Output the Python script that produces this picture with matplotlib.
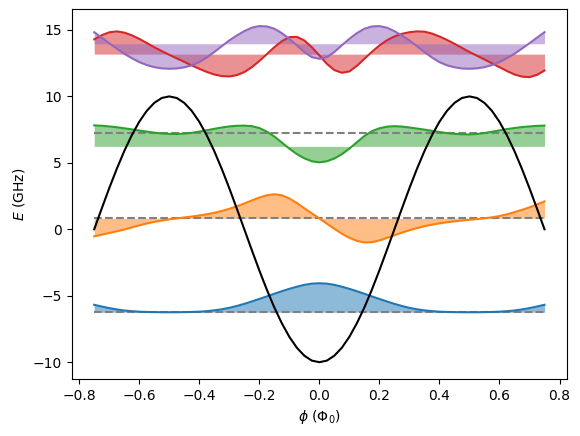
import matplotlib
matplotlib.use("Agg")
import matplotlib.pyplot as plt

# phase grid (units of Phi_0), step 0.025
phi = [-0.75, -0.725, -0.70, -0.675, -0.65, -0.625, -0.60, -0.575, -0.55, -0.525,
       -0.50, -0.475, -0.45, -0.425, -0.40, -0.375, -0.35, -0.325, -0.30, -0.275,
       -0.25, -0.225, -0.20, -0.175, -0.15, -0.125, -0.10, -0.075, -0.05, -0.025,
       0.00, 0.025, 0.05, 0.075, 0.10, 0.125, 0.15, 0.175, 0.20, 0.225,
       0.25, 0.275, 0.30, 0.325, 0.35, 0.375, 0.40, 0.425, 0.45, 0.475,
       0.50, 0.525, 0.55, 0.575, 0.60, 0.625, 0.65, 0.675, 0.70, 0.725, 0.75]

potential = [0.0, 1.56, 3.09, 4.54, 5.88, 7.07, 8.09, 8.91, 9.51, 9.88,
             10.0, 9.88, 9.51, 8.91, 8.09, 7.07, 5.88, 4.54, 3.09, 1.56,
             0.0, -1.56, -3.09, -4.54, -5.88, -7.07, -8.09, -8.91, -9.51, -9.88,
             -10.0, -9.88, -9.51, -8.91, -8.09, -7.07, -5.88, -4.54, -3.09, -1.56,
             0.0, 1.56, 3.09, 4.54, 5.88, 7.07, 8.09, 8.91, 9.51, 9.88,
             10.0, 9.88, 9.51, 8.91, 8.09, 7.07, 5.88, 4.54, 3.09, 1.56, 0.0]

# energy levels (dashed lines) and fill baselines
dashed_levels = [-6.24, 0.83, 7.24]
fill_base = [-6.24, 0.83, 6.24, 13.18, 13.96]

wf0 = [-5.68, -5.81, -5.93, -6.03, -6.11, -6.16, -6.20, -6.22, -6.23, -6.24,
       -6.24, -6.24, -6.23, -6.22, -6.20, -6.16, -6.10, -6.02, -5.91, -5.77,
       -5.61, -5.43, -5.24, -5.05, -4.85, -4.66, -4.48, -4.32, -4.18, -4.09,
       -4.06, -4.09, -4.18, -4.32, -4.48, -4.66, -4.85, -5.05, -5.24, -5.43,
       -5.61, -5.77, -5.91, -6.02, -6.10, -6.16, -6.20, -6.22, -6.23, -6.24,
       -6.24, -6.24, -6.23, -6.22, -6.20, -6.16, -6.11, -6.03, -5.93, -5.81, -5.68]
wf1 = [-0.53, -0.40, -0.28, -0.15, -0.02, 0.14, 0.30, 0.44, 0.56, 0.66,
       0.75, 0.82, 0.89, 0.96, 1.04, 1.13, 1.24, 1.38, 1.54, 1.73,
       1.94, 2.17, 2.39, 2.56, 2.64, 2.56, 2.32, 1.98, 1.58, 1.20,
       0.82, 0.42, 0.04, -0.33, -0.64, -0.87, -0.99, -0.97, -0.84, -0.65,
       -0.45, -0.25, -0.07, 0.09, 0.23, 0.35, 0.45, 0.53, 0.60, 0.66,
       0.72, 0.77, 0.83, 0.90, 1.00, 1.13, 1.29, 1.46, 1.65, 1.87, 2.10]
wf2 = [7.82, 7.79, 7.74, 7.68, 7.60, 7.52, 7.43, 7.35, 7.27, 7.21,
       7.18, 7.17, 7.20, 7.26, 7.35, 7.45, 7.56, 7.66, 7.74, 7.79,
       7.80, 7.76, 7.62, 7.35, 6.98, 6.53, 6.07, 5.66, 5.34, 5.12,
       5.04, 5.12, 5.33, 5.65, 6.07, 6.55, 7.02, 7.38, 7.60, 7.72,
       7.76, 7.73, 7.66, 7.58, 7.50, 7.41, 7.32, 7.24, 7.18, 7.15,
       7.14, 7.17, 7.24, 7.34, 7.44, 7.54, 7.62, 7.69, 7.74, 7.78, 7.80]
wf3 = [14.29, 14.60, 14.82, 14.89, 14.80, 14.60, 14.33, 14.02, 13.70, 13.41,
       13.13, 12.86, 12.60, 12.33, 12.08, 11.84, 11.65, 11.53, 11.50, 11.60,
       11.83, 12.20, 12.66, 13.18, 13.70, 14.15, 14.46, 14.48, 14.21, 13.70,
       13.08, 12.45, 11.98, 11.78, 11.88, 12.30, 12.83, 13.35, 13.83, 14.22,
       14.51, 14.71, 14.83, 14.89, 14.87, 14.73, 14.51, 14.25, 13.96, 13.65,
       13.34, 13.06, 12.78, 12.49, 12.20, 11.91, 11.65, 11.49, 11.45, 11.62, 11.95]
wf4 = [14.83, 14.42, 14.00, 13.60, 13.21, 12.88, 12.58, 12.36, 12.20, 12.11,
       12.08, 12.10, 12.19, 12.34, 12.58, 12.93, 13.34, 13.78, 14.21, 14.58,
       14.91, 15.17, 15.29, 15.26, 15.09, 14.76, 14.33, 13.85, 13.34, 12.95,
       12.83, 12.95, 13.34, 13.85, 14.33, 14.76, 15.09, 15.26, 15.29, 15.17,
       14.91, 14.58, 14.21, 13.78, 13.34, 12.93, 12.58, 12.34, 12.19, 12.10,
       12.08, 12.11, 12.20, 12.36, 12.58, 12.88, 13.21, 13.60, 14.00, 14.42, 14.83]

wavefunctions = [wf0, wf1, wf2, wf3, wf4]
colors = ["C0", "C1", "C2", "C3", "C4"]

fig = plt.figure(figsize=(5.8, 4.36), dpi=100)
ax = fig.add_axes([0.1236, 0.1307, 0.854, 0.848])

for lev in dashed_levels:
    ax.plot([phi[0], phi[-1]], [lev, lev], color="gray", linestyle="--", lw=1.5)

for wf, base, c in zip(wavefunctions, fill_base, colors):
    ax.fill_between(phi, wf, base, color=c, alpha=0.5, lw=0)
    ax.plot(phi, wf, color=c, lw=1.5)

ax.plot(phi, potential, color="black", lw=1.5)

ax.set_xlabel(r"$\phi$ ($\Phi_0$)")
ax.set_ylabel(r"$E$ (GHz)")

fig.savefig("out.png", dpi=100)
